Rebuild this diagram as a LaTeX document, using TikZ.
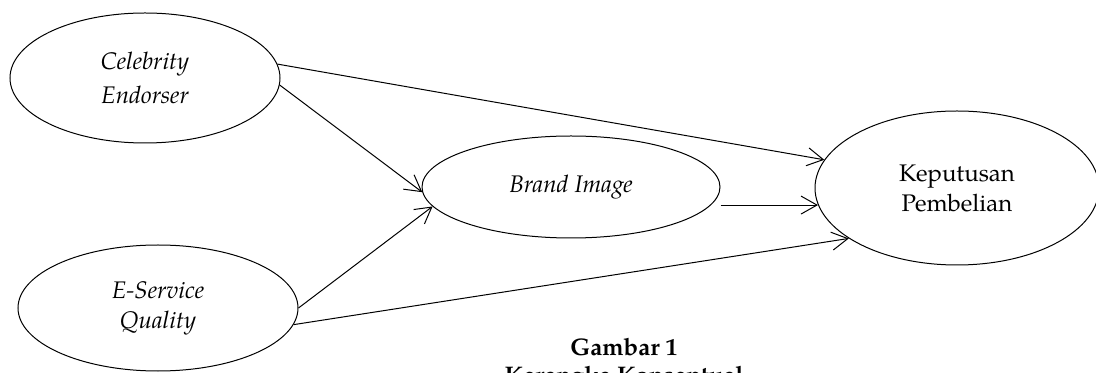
\documentclass[tikz,border=0pt]{standalone}
\usepackage{fontspec}
\setmainfont{TeX Gyre Pagella}
\usetikzlibrary{shapes.geometric,arrows.meta,positioning}

\begin{document}
\begin{tikzpicture}[
    x=0.5pt, y=-0.5pt,
    var/.style={ellipse, draw, line width=0.5pt, inner sep=0pt, align=center, font=\fontsize{12}{15}\selectfont\itshape},
    arr/.style={-{Straight Barb[length=8pt,width=9pt]}, line width=0.5pt},
    caption/.style={font=\fontsize{12}{15}\selectfont\bfseries, anchor=base}
]
    \useasboundingbox (0,0) rectangle (1096,373);

    % Variables
    \node[var, minimum width=135pt, minimum height=65pt] (celeb) at (145,78) {Celebrity\\[2pt]Endorser};
    \node[var, minimum width=140pt, minimum height=63pt] (eserv) at (158,308) {E-Service\\Quality};
    \node[var, minimum width=149pt, minimum height=51pt] (brand) at (571,187) {Brand Image};
    \node[var, font=\fontsize{12}{15}\selectfont, minimum width=142pt, minimum height=77pt] (kep) at (957,188) {Keputusan\\Pembelian};

    % Caption
    \node[caption] (fig) at (624,355) {Gambar 1};
    \node[caption] (title) at (624,383) {Kerangka Konseptual};

    % Connections
    \draw[arr] (celeb.6) -- (kep.168);
    \draw[arr] (celeb.-3) -- (brand.182);
    \draw[arr] (eserv.0) -- (brand.188);
    \draw[arr] (brand.east |- kep.187) -- (kep.187);
    \draw[arr] (eserv.-7) -- (kep.205);

\end{tikzpicture}
\end{document}
